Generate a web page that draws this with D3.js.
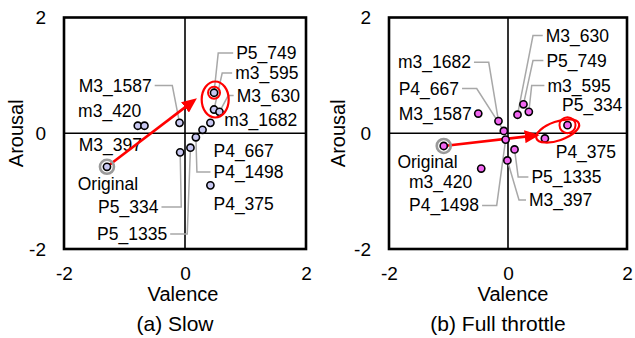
<!DOCTYPE html>
<html>
<head>
<meta charset="utf-8">
<title>Valence / Arousal shift</title>
<script src="https://d3js.org/d3.v7.min.js"></script>
<style>
  body { margin: 0; background: #fff; }
  svg { font-family: "Liberation Sans", Arial, sans-serif; }
</style>
</head>
<body>
<div id="vis"></div>
<script>
// (a) Slow : one point per music clip
const slowSongs   = ["P5_749", "m3_595", "M3_630", "m3_1682", "P4_667", "P4_1498", "P5_1335", "P5_334", "P4_375", "M3_1587", "m3_420", "M3_397"];
const slowValence = [0.48, 0.48, 0.57, 0.42, 0.29, 0.18, 0.09, -0.08, 0.42, -0.09, -0.78, -0.67];
const slowArousal = [0.70, 0.41, 0.37, 0.18, 0.06, -0.07, -0.25, -0.33, -0.90, 0.18, 0.13, 0.13];
const slowOriginal = [-1.29, -0.58];

// (b) Full throttle
const fullSongs   = ["M3_630", "P5_749", "m3_595", "m3_1682", "P4_667", "P4_1498", "P5_1335", "M3_397", "m3_420", "M3_1587", "P5_334", "P4_375"];
const fullValence = [0.16, 0.26, 0.35, -0.16, -0.07, -0.04, 0.11, -0.01, -0.45, -0.50, 1.00, 0.62];
const fullArousal = [0.32, 0.50, 0.37, 0.21, 0.04, -0.11, -0.28, -0.47, -0.61, 0.34, 0.14, -0.09];
const fullOriginal = [-1.08, -0.22];

const ticks = [-2, 0, 2];

// label placement (data units): [text x, baseline y, leader elbow x]
const slowLayout = {
  "P5_749": [0.846, 1.282, 0.549],
  "m3_595": [0.829, 0.937, 0.615],
  "M3_630": [0.854, 0.548, 0.714],
  "m3_1682": [0.648, 0.125],
  "M3_1587": [-1.757, 0.721, -0.210],
  "m3_420": [-1.767, 0.289],
  "M3_397": [-1.757, -0.315],
  "P4_667": [0.471, -0.402],
  "P4_1498": [0.471, -0.773, 0.197],
  "P4_375": [0.471, -1.326],
  "P5_334": [-1.436, -1.377, -0.062],
  "P5_1335": [-1.453, -1.844, 0.037],
  "Original": [-1.773, -0.980]
};
const fullLayout = {
  "M3_630": [0.634, 1.585, 0.420],
  "P5_749": [0.645, 1.153, 0.420],
  "m3_595": [0.662, 0.721, 0.398],
  "P5_334": [0.908, 0.376],
  "P4_375": [0.802, -0.433],
  "m3_1682": [-1.849, 1.122, -0.324],
  "P4_667": [-1.837, 0.669, -0.526],
  "M3_1587": [-1.837, 0.237],
  "Original": [-1.859, -0.609],
  "m3_420": [-1.664, -0.946],
  "P4_1498": [-1.664, -1.351, -0.190],
  "P5_1335": [0.393, -0.859, 0.171],
  "M3_397": [0.353, -1.256, 0.185]
};

const width = 635, height = 338;
const plotTop = 17.5, plotBottom = 249;
const font = "'Liberation Sans', Arial, sans-serif";

const svg = d3.select("#vis").append("svg")
  .attr("width", width)
  .attr("height", height)
  .attr("font-family", font);

const panels = [
  { songs: slowSongs, val: slowValence, aro: slowArousal, orig: slowOriginal,
    x0: 64, x1: 306, fill: "#c8c8f2", layout: slowLayout,
    tip: [0.197, 0.604], ell: { c: [0.499, 0.583], rx: 13.5, ry: 18, rot: 0 },
    ring: "P5_749", ringR: 6,
    caption: "(a) Slow", capX: 175, titleX: 183, aroX: 23 },
  { songs: fullSongs, val: fullValence, aro: fullArousal, orig: fullOriginal,
    x0: 389, x1: 627, fill: "#f066f0", layout: fullLayout,
    tip: [0.533, -0.03], ell: { c: [0.835, 0.039], rx: 22.5, ry: 9.5, rot: -19 },
    ring: "P5_334", ringR: 8,
    caption: "(b) Full throttle", capX: 498, titleX: 513, aroX: 345 }
];

// arrow head
svg.append("defs").append("marker")
  .attr("id", "head")
  .attr("viewBox", "0 0 15 13")
  .attr("markerWidth", 15)
  .attr("markerHeight", 13)
  .attr("refX", 7)
  .attr("refY", 6.5)
  .attr("orient", "auto")
  .attr("markerUnits", "userSpaceOnUse")
  .append("path")
  .attr("d", "M0,0 L15,6.5 L0,13 Z")
  .attr("fill", "red");

panels.forEach(function(p) {
  const x = d3.scaleLinear().domain([-2, 2]).range([p.x0, p.x1]);
  const y = d3.scaleLinear().domain([-2, 2]).range([plotBottom, plotTop]);
  const g = svg.append("g");

  // axes: labels only
  const xAxis = g.append("g")
    .attr("transform", "translate(0," + plotBottom + ")")
    .call(d3.axisBottom(x).tickValues(ticks).tickSize(0).tickPadding(18).tickFormat(d3.format("d")));
  const yAxis = g.append("g")
    .attr("transform", "translate(" + p.x0 + ",0)")
    .call(d3.axisLeft(y).tickValues(ticks).tickSize(0).tickPadding(18).tickFormat(d3.format("d")));
  [xAxis, yAxis].forEach(function(a) {
    a.attr("font-family", font).attr("font-size", 19);
    a.select(".domain").remove();
    a.selectAll("text")
      .attr("fill", "#000")
      .text(function(d) { return d < 0 ? "-" + Math.abs(d) : d; });
  });

  // frame and zero lines
  g.append("line").attr("x1", x(0)).attr("x2", x(0)).attr("y1", plotTop).attr("y2", plotBottom)
    .attr("stroke", "#000").attr("stroke-width", 1.6);
  g.append("line").attr("x1", p.x0).attr("x2", p.x1).attr("y1", y(0)).attr("y2", y(0))
    .attr("stroke", "#000").attr("stroke-width", 1.6);
  g.append("rect")
    .attr("x", p.x0).attr("y", plotTop)
    .attr("width", p.x1 - p.x0).attr("height", plotBottom - plotTop)
    .attr("fill", "none").attr("stroke", "#000").attr("stroke-width", 2.6);

  // titles
  g.append("text").attr("x", p.titleX).attr("y", 300.5)
    .attr("text-anchor", "middle").attr("font-size", 20).text("Valence");
  g.append("text")
    .attr("transform", "translate(" + p.aroX + "," + y(0) + ") rotate(-90)")
    .attr("text-anchor", "middle").attr("font-size", 20).text("Arousal");
  g.append("text").attr("x", p.capX).attr("y", 331)
    .attr("text-anchor", "middle").attr("font-size", 21).text(p.caption);

  const pts = p.songs.map(function(s, i) { return { name: s, v: p.val[i], a: p.aro[i] }; });
  const origin = { name: "Original", v: p.orig[0], a: p.orig[1] };

  // leader lines, then labels
  const leaders = g.append("g")
    .attr("fill", "none").attr("stroke", "#a8a8a8").attr("stroke-width", 1.5);
  const labels = g.append("g").attr("font-size", 17.5);

  pts.concat([origin]).forEach(function(d) {
    const L = p.layout[d.name];
    const lx = x(L[0]), ly = y(L[1]);
    const t = labels.append("text").attr("x", lx).attr("y", ly).text(d.name);
    if (L.length > 2) {
      const w = t.node().getComputedTextLength();
      const sx = lx > x(d.v) ? lx - 3 : lx + w + 3;
      const my = ly - 6;
      leaders.append("polyline")
        .attr("points", [[sx, my], [x(L[2]), my], [x(d.v), y(d.a)]].map(function(q) { return q.join(","); }).join(" "));
    }
  });

  // arrow from original to the new cluster
  const ox = x(origin.v), oy = y(origin.a);
  const tx = x(p.tip[0]), ty = y(p.tip[1]);
  const len = Math.hypot(tx - ox, ty - oy);
  g.append("line")
    .attr("x1", ox).attr("y1", oy)
    .attr("x2", tx - (tx - ox) / len * 8).attr("y2", ty - (ty - oy) / len * 8)
    .attr("stroke", "red").attr("stroke-width", 2.6)
    .attr("marker-end", "url(#head)");

  // points
  g.append("circle").attr("cx", ox).attr("cy", oy).attr("r", 7)
    .attr("fill", "none").attr("stroke", "#9a9a9a").attr("stroke-width", 2.6);
  g.append("g").selectAll("circle")
    .data(pts.concat([origin]))
    .join("circle")
    .attr("cx", function(d) { return x(d.v); })
    .attr("cy", function(d) { return y(d.a); })
    .attr("r", 3.6)
    .attr("fill", p.fill)
    .attr("stroke", "#000")
    .attr("stroke-width", 1.6);

  // highlight
  const rp = pts.find(function(d) { return d.name === p.ring; });
  g.append("circle").attr("cx", x(rp.v)).attr("cy", y(rp.a)).attr("r", p.ringR)
    .attr("fill", "none").attr("stroke", "red").attr("stroke-width", 2);
  g.append("ellipse")
    .attr("transform", "translate(" + x(p.ell.c[0]) + "," + y(p.ell.c[1]) + ") rotate(" + p.ell.rot + ")")
    .attr("rx", p.ell.rx).attr("ry", p.ell.ry)
    .attr("fill", "none").attr("stroke", "red").attr("stroke-width", 2.2);
});
</script>
</body>
</html>
